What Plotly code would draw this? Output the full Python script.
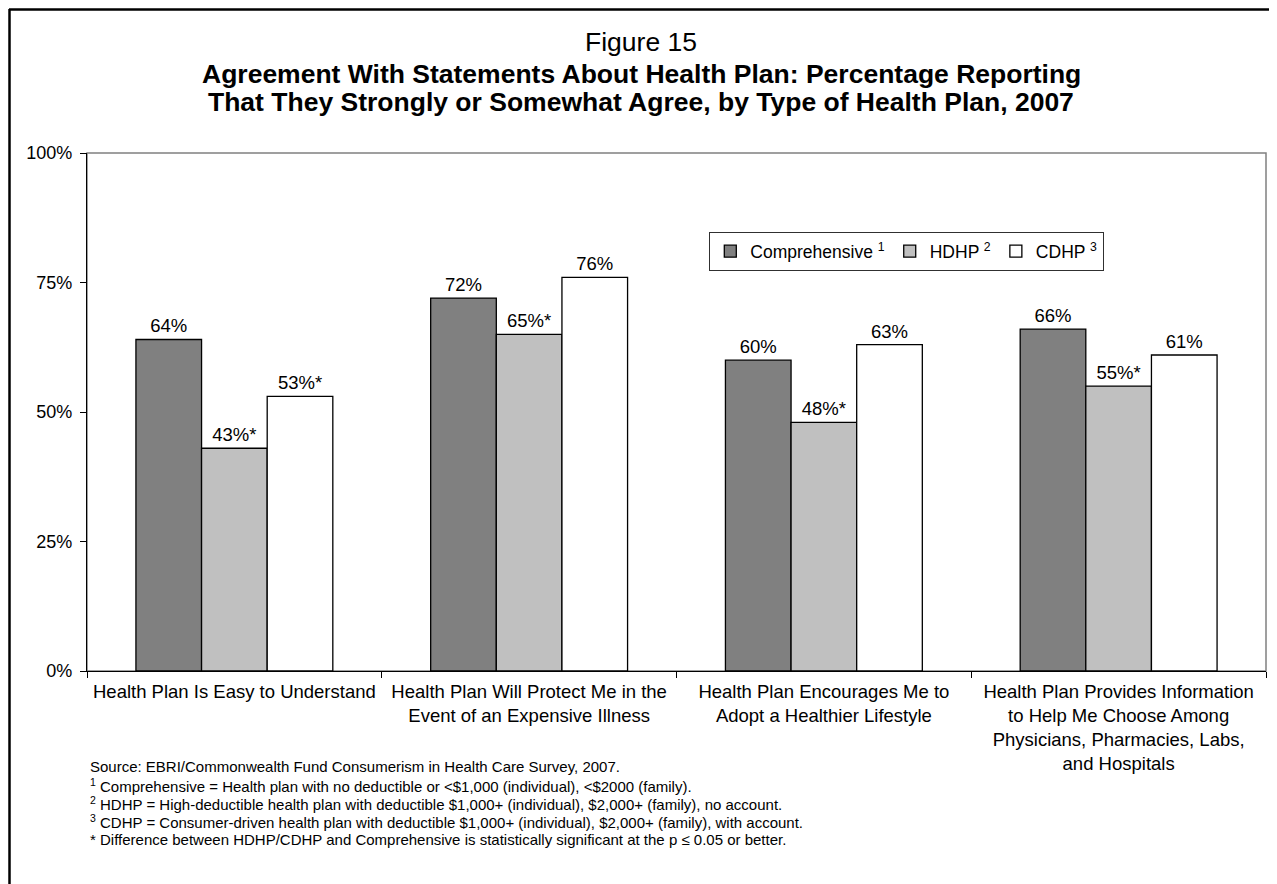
import plotly.graph_objects as go

categories = [
    "Health Plan Is Easy to Understand",
    "Health Plan Will Protect Me in the<br>Event of an Expensive Illness",
    "Health Plan Encourages Me to<br>Adopt a Healthier Lifestyle",
    "Health Plan Provides Information<br>to Help Me Choose Among<br>Physicians, Pharmacies, Labs,<br>and Hospitals",
]
series_names = ["Comprehensive <sup>1</sup>", "HDHP <sup>2</sup>", "CDHP <sup>3</sup>"]
comprehensive = [64, 72, 60, 66]
hdhp = [43, 65, 48, 55]
cdhp = [53, 76, 63, 61]
comprehensive_labels = ["64%", "72%", "60%", "66%"]
hdhp_labels = ["43%*", "65%*", "48%*", "55%*"]
cdhp_labels = ["53%*", "76%", "63%", "61%"]
y_tickvals = [0, 25, 50, 75, 100]
y_ticktext = ["0%", "25%", "50%", "75%", "100%"]

footnotes = [
    "Source: EBRI/Commonwealth Fund Consumerism in Health Care Survey, 2007.",
    "<sup>1</sup> Comprehensive = Health plan with no deductible or <$1,000 (individual), <$2000 (family).",
    "<sup>2</sup> HDHP = High-deductible health plan with deductible $1,000+ (individual), $2,000+ (family), no account.",
    "<sup>3</sup> CDHP = Consumer-driven health plan with deductible $1,000+ (individual), $2,000+ (family), with account.",
    "* Difference between HDHP/CDHP and Comprehensive is statistically significant at the p \u2264 0.05 or better.",
]

FONT = "Liberation Sans, Arial, sans-serif"
OFF = 8  # page margin offset of the figure inside the browser window
W, H = 1277 - OFF, 884 - OFF
L, T = 87 - OFF, 153 - OFF
R = W - (1266 - OFF)
B = H - (671 - OFF)
PW = W - L - R
PH = H - T - B

def px_x(px):
    # px is a screenshot coordinate
    return (px - OFF - L) / PW

def px_y(py):
    return (H - B - (py - OFF)) / PH

fig = go.Figure()
colors = ["#808080", "#C0C0C0", "#FFFFFF"]
for name, vals, labels, col in zip(series_names, [comprehensive, hdhp, cdhp],
                                   [comprehensive_labels, hdhp_labels, cdhp_labels], colors):
    fig.add_trace(go.Bar(
        x=categories, y=vals, name=name, text=labels,
        textposition="outside", cliponaxis=False,
        textfont=dict(family=FONT, size=18.5, color="black"),
        marker=dict(color=col, line=dict(color="black", width=1.3)),
    ))

title_texts = [
    "Figure 15",
    "<b>Agreement With Statements About Health Plan: Percentage Reporting</b>",
    "<b>That They Strongly or Somewhat Agree, by Type of Health Plan, 2007</b>",
]
title_centers = [(641, 42), (641, 74), (641, 102)]
annotations = []
for txt, (cx, cy) in zip(title_texts, title_centers):
    annotations.append(dict(
        text=txt, x=px_x(cx), y=px_y(cy), xref="paper", yref="paper",
        xanchor="center", yanchor="middle", showarrow=False,
        font=dict(family=FONT, size=26.5, color="black"),
    ))

foot_y = [766, 785, 803, 821, 839]
for txt, fy in zip(footnotes, foot_y):
    annotations.append(dict(
        text=txt, x=px_x(88), y=px_y(fy), xref="paper", yref="paper",
        xanchor="left", yanchor="middle", showarrow=False,
        font=dict(family=FONT, size=15, color="black"),
    ))

shapes = [
    # plot frame (gray)
    dict(type="rect", xref="paper", yref="paper", x0=0, y0=0, x1=1, y1=1,
         line=dict(color="#808080", width=1.5), layer="below"),
    # outer chart border (top and left visible)
    dict(type="line", xref="paper", yref="paper", x0=px_x(9), y0=px_y(9.5), x1=px_x(1300), y1=px_y(9.5),
         line=dict(color="black", width=2.5)),
    dict(type="line", xref="paper", yref="paper", x0=px_x(9.5), y0=px_y(9), x1=px_x(9.5), y1=px_y(900),
         line=dict(color="black", width=2.5)),
]

fig.update_layout(
    width=W, height=H,
    margin=dict(l=L, r=R, t=T, b=B, autoexpand=False),
    paper_bgcolor="white", plot_bgcolor="white",
    barmode="group", bargap=0.332, bargroupgap=0,
    font=dict(family=FONT, size=18, color="black"),
    annotations=annotations, shapes=shapes,
    legend=dict(
        orientation="h", x=px_x(709), y=px_y(232), xanchor="left", yanchor="top",
        bordercolor="#303030", borderwidth=1.3, bgcolor="white",
        font=dict(family=FONT, size=17.5, color="black"),
        traceorder="normal", itemwidth=30,
    ),
    xaxis=dict(
        showline=True, linecolor="black", linewidth=1.2,
        ticks="outside", tickson="boundaries", ticklen=6, tickcolor="black",
        tickfont=dict(family=FONT, size=18.5, color="black"),
        ticklabelstandoff=4,
        showgrid=False,
    ),
    yaxis=dict(
        range=[0, 100], tickvals=y_tickvals, ticktext=y_ticktext,
        showline=True, linecolor="black", linewidth=1.2,
        ticks="outside", ticklen=6, tickcolor="black",
        tickfont=dict(family=FONT, size=18, color="black"),
        ticklabelstandoff=4,
        showgrid=False, zeroline=False,
    ),
)

fig.write_html("out.html")
